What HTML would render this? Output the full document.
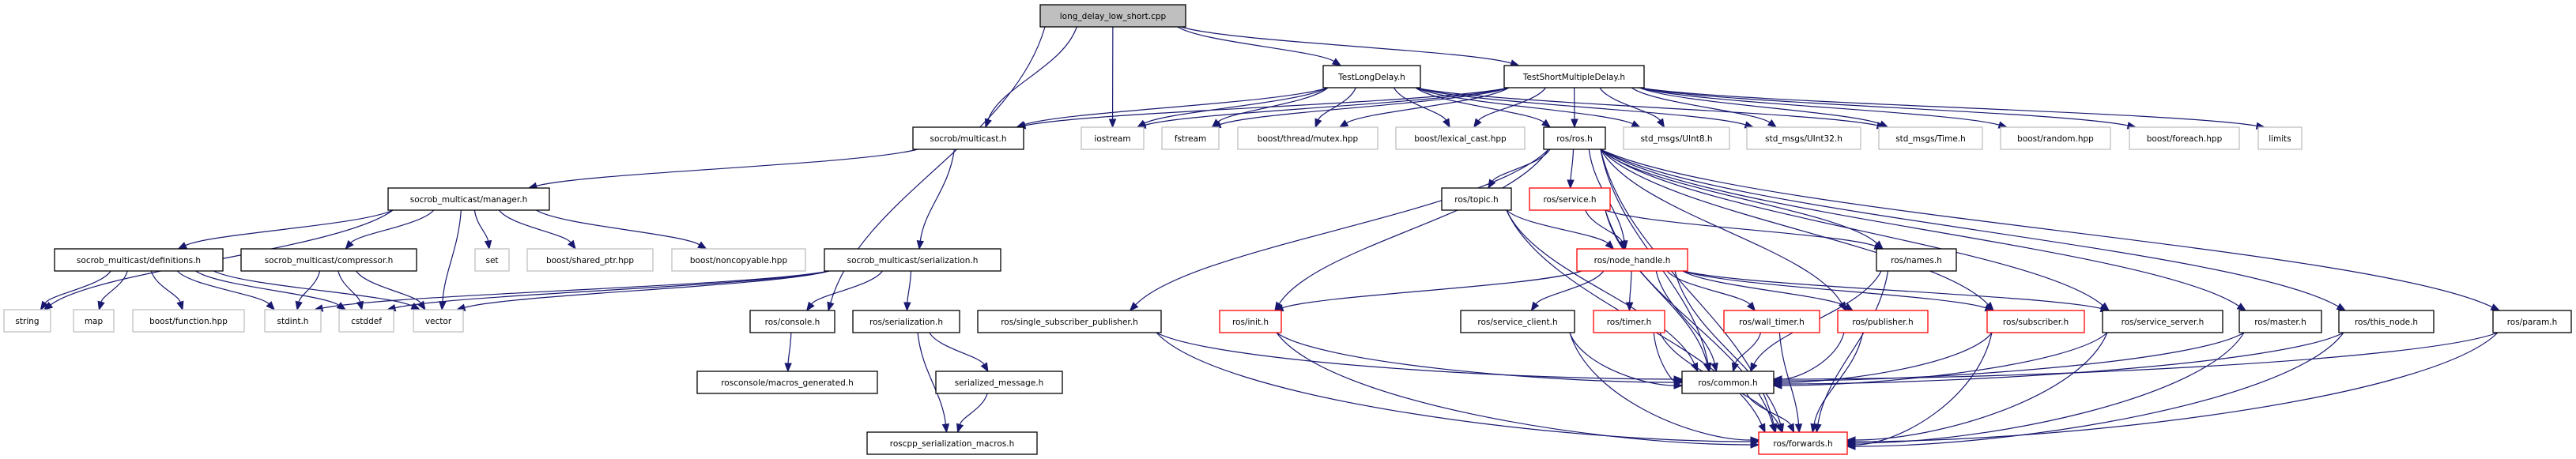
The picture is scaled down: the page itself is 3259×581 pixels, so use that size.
<!DOCTYPE html>
<html><head><meta charset="utf-8"><style>
html,body{margin:0;padding:0;background:#fff;}
svg{display:block}
text{font-family:"DejaVu Sans","Liberation Sans",sans-serif;font-size:10.5px;fill:#000;text-anchor:middle;}
.b{fill:#fff;stroke:#000;stroke-width:1.3}
.g{fill:#fff;stroke:#bfbfbf;stroke-width:1.3}
.r{fill:#fff;stroke:#ff0000;stroke-width:1.3}
.m{fill:#bfbfbf;stroke:#000;stroke-width:1.3}
</style></head><body>
<svg id="s" width="3259" height="581" viewBox="0 0 3259 581" xmlns="http://www.w3.org/2000/svg">
<g id="edges" fill="none" stroke="#191970" stroke-width="1.2"></g>
<g id="arrows" fill="#191970" stroke="#191970"></g>
<g id="nodes">
<rect class="m" x="1316" y="6" width="184" height="28"/><text x="1408" y="24">long_delay_low_short.cpp</text>
<rect class="b" x="1674" y="83" width="123" height="28"/><text x="1735.5" y="101">TestLongDelay.h</text>
<rect class="b" x="1903" y="83" width="177" height="28"/><text x="1991.5" y="101">TestShortMultipleDelay.h</text>
<rect class="b" x="1155" y="161" width="140" height="28"/><text x="1225" y="179">socrob/multicast.h</text>
<rect class="g" x="1368" y="161" width="79" height="28"/><text x="1407.5" y="179">iostream</text>
<rect class="g" x="1470" y="161" width="72" height="28"/><text x="1506" y="179">fstream</text>
<rect class="g" x="1566" y="161" width="177" height="28"/><text x="1654.5" y="179">boost/thread/mutex.hpp</text>
<rect class="g" x="1766" y="161" width="163" height="28"/><text x="1847.5" y="179">boost/lexical_cast.hpp</text>
<rect class="b" x="1953" y="161" width="78" height="28"/><text x="1992" y="179">ros/ros.h</text>
<rect class="g" x="2054" y="161" width="134" height="28"/><text x="2121" y="179">std_msgs/UInt8.h</text>
<rect class="g" x="2210" y="161" width="144" height="28"/><text x="2282" y="179">std_msgs/UInt32.h</text>
<rect class="g" x="2377" y="161" width="131" height="28"/><text x="2442.5" y="179">std_msgs/Time.h</text>
<rect class="g" x="2531" y="161" width="139" height="28"/><text x="2600.5" y="179">boost/random.hpp</text>
<rect class="g" x="2694" y="161" width="139" height="28"/><text x="2763.5" y="179">boost/foreach.hpp</text>
<rect class="g" x="2857" y="161" width="55" height="28"/><text x="2884.5" y="179">limits</text>
<rect class="b" x="491" y="238" width="204" height="28"/><text x="593" y="256">socrob_multicast/manager.h</text>
<rect class="b" x="1824" y="238" width="88" height="28"/><text x="1868" y="256">ros/topic.h</text>
<rect class="r" x="1935" y="238" width="102" height="28"/><text x="1986" y="256">ros/service.h</text>
<rect class="b" x="69" y="315" width="213" height="28"/><text x="175.5" y="333">socrob_multicast/definitions.h</text>
<rect class="b" x="305" y="315" width="222" height="28"/><text x="416" y="333">socrob_multicast/compressor.h</text>
<rect class="g" x="601" y="315" width="43" height="28"/><text x="622.5" y="333">set</text>
<rect class="g" x="667" y="315" width="159" height="28"/><text x="746.5" y="333">boost/shared_ptr.hpp</text>
<rect class="g" x="850" y="315" width="169" height="28"/><text x="934.5" y="333">boost/noncopyable.hpp</text>
<rect class="b" x="1043" y="315" width="223" height="28"/><text x="1154.5" y="333">socrob_multicast/serialization.h</text>
<rect class="r" x="1995" y="315" width="140" height="28"/><text x="2065" y="333">ros/node_handle.h</text>
<rect class="b" x="2374" y="315" width="101" height="28"/><text x="2424.5" y="333">ros/names.h</text>
<rect class="g" x="5" y="392" width="59" height="28"/><text x="34.5" y="410">string</text>
<rect class="g" x="93" y="392" width="51" height="28"/><text x="118.5" y="410">map</text>
<rect class="g" x="168" y="392" width="141" height="28"/><text x="238.5" y="410">boost/function.hpp</text>
<rect class="g" x="335" y="392" width="71" height="28"/><text x="370.5" y="410">stdint.h</text>
<rect class="g" x="429" y="392" width="69" height="28"/><text x="463.5" y="410">cstddef</text>
<rect class="g" x="523" y="392" width="63" height="28"/><text x="554.5" y="410">vector</text>
<rect class="b" x="949" y="393" width="107" height="28"/><text x="1002.5" y="411">ros/console.h</text>
<rect class="b" x="1079" y="393" width="135" height="28"/><text x="1146.5" y="411">ros/serialization.h</text>
<rect class="b" x="1237" y="393" width="232" height="28"/><text x="1353" y="411">ros/single_subscriber_publisher.h</text>
<rect class="r" x="1543" y="393" width="78" height="28"/><text x="1582" y="411">ros/init.h</text>
<rect class="b" x="1848" y="393" width="144" height="28"/><text x="1920" y="411">ros/service_client.h</text>
<rect class="r" x="2016" y="393" width="90" height="28"/><text x="2061" y="411">ros/timer.h</text>
<rect class="r" x="2181" y="393" width="121" height="28"/><text x="2241.5" y="411">ros/wall_timer.h</text>
<rect class="r" x="2325" y="393" width="114" height="28"/><text x="2382" y="411">ros/publisher.h</text>
<rect class="r" x="2514" y="393" width="123" height="28"/><text x="2575.5" y="411">ros/subscriber.h</text>
<rect class="b" x="2660" y="393" width="152" height="28"/><text x="2736" y="411">ros/service_server.h</text>
<rect class="b" x="2833" y="393" width="104" height="28"/><text x="2885" y="411">ros/master.h</text>
<rect class="b" x="2959" y="393" width="120" height="28"/><text x="3019" y="411">ros/this_node.h</text>
<rect class="b" x="3154" y="393" width="99" height="28"/><text x="3203.5" y="411">ros/param.h</text>
<rect class="b" x="882" y="470" width="228" height="28"/><text x="996" y="488">rosconsole/macros_generated.h</text>
<rect class="b" x="1184" y="470" width="160" height="28"/><text x="1264" y="488">serialized_message.h</text>
<rect class="b" x="2128" y="470" width="116" height="28"/><text x="2186" y="488">ros/common.h</text>
<rect class="b" x="1097" y="547" width="215" height="28"/><text x="1204.5" y="565">roscpp_serialization_macros.h</text>
<rect class="r" x="2225" y="547" width="112" height="28"/><text x="2281" y="565">ros/forwards.h</text>
</g>
</svg>
<script>
(function(){
var N={
ld:[1316,6,1500,34],tl:[1674,83,1797,111],ts:[1903,83,2080,111],mc:[1155,161,1295,189],io:[1368,161,1447,189],fs:[1470,161,1542,189],
mx:[1566,161,1743,189],lc:[1766,161,1929,189],ros:[1953,161,2031,189],u8:[2054,161,2188,189],u32:[2210,161,2354,189],tm:[2377,161,2508,189],
rnd:[2531,161,2670,189],fe:[2694,161,2833,189],lim:[2857,161,2912,189],mg:[491,238,695,266],tp:[1824,238,1912,266],sv:[1935,238,2037,266],
df:[69,315,282,343],cp:[305,315,527,343],set:[601,315,644,343],sp:[667,315,826,343],nc:[850,315,1019,343],se:[1043,315,1266,343],
nh:[1995,315,2135,343],nm:[2374,315,2475,343],str:[5,392,64,420],map:[93,392,144,420],fn:[168,392,309,420],si:[335,392,406,420],
cd:[429,392,498,420],vec:[523,392,586,420],con:[949,393,1056,421],rse:[1079,393,1214,421],ssp:[1237,393,1469,421],ini:[1543,393,1621,421],
sc:[1848,393,1992,421],tmr:[2016,393,2106,421],wt:[2181,393,2302,421],pub:[2325,393,2439,421],sub:[2514,393,2637,421],ss:[2660,393,2812,421],
ms:[2833,393,2937,421],tn:[2959,393,3079,421],par:[3154,393,3253,421],mac:[882,470,1110,498],smg:[1184,470,1344,498],com:[2128,470,2244,498],
rsm:[1097,547,1312,575],fw:[2225,547,2337,575]};
var E=[
['ld','mc'],['ld','io'],['ld','tl'],['ld','ts'],['ld','con'],
['tl','mc'],['tl','io'],['tl','fs'],['tl','mx'],['tl','lc'],['tl','ros'],['tl','u8'],['tl','u32'],['tl','tm'],
['ts','mc'],['ts','io'],['ts','fs'],['ts','mx'],['ts','lc'],['ts','ros'],['ts','u8'],['ts','u32'],['ts','tm'],['ts','rnd'],['ts','fe'],['ts','lim'],
['mc','mg'],['mc','se'],
['mg','str'],['mg','df'],['mg','cp'],['mg','vec'],['mg','set'],['mg','sp'],['mg','nc'],
['df','str'],['df','map'],['df','fn'],['df','si'],['df','cd'],['df','vec'],
['cp','si'],['cp','cd'],['cp','vec'],
['se','si'],['se','cd'],['se','vec'],['se','con'],['se','rse'],
['con','mac'],['rse','smg'],['rse','rsm'],['smg','rsm'],
['ros','tp'],['ros','sv'],['ros','nh'],['ros','nm'],['ros','ssp'],['ros','ini'],['ros','com'],['ros','fw'],['ros','pub'],['ros','sub'],
['ros','ss'],['ros','ms'],['ros','tn'],['ros','par'],
['sv','nh'],['sv','nm'],['sv','com'],['sv','fw'],
['tp','nh'],['tp','com'],['tp','fw'],
['nh','ini'],['nh','sc'],['nh','tmr'],['nh','wt'],['nh','pub'],['nh','sub'],['nh','ss'],['nh','com'],['nh','fw'],
['nm','com'],['nm','fw'],
['ssp','com'],['ssp','fw'],['ini','com'],['ini','fw'],['sc','com'],['sc','fw'],['tmr','com'],['tmr','fw'],['wt','com'],['wt','fw'],
['pub','com'],['pub','fw'],['sub','com'],['sub','fw'],['ss','com'],['ss','fw'],['ms','com'],['ms','fw'],['tn','com'],['tn','fw'],
['par','com'],['par','fw'],['com','fw']];
var eg=document.getElementById('edges'),ag=document.getElementById('arrows'),ns='http://www.w3.org/2000/svg';
function cl(v,a,b){return Math.max(a,Math.min(b,v));}
E.forEach(function(e,i){
 var s=N[e[0]],t=N[e[1]];
 var scx=(s[0]+s[2])/2,tcx=(t[0]+t[2])/2;
 var sx=cl(scx+(tcx-scx)*0.25,s[0]+6,s[2]-6),sy=s[3];
 var ex,ey,c1x,c1y,c2x,c2y;
 var dy=t[1]-sy;
 var side=(e[1]=='com'||e[1]=='fw')&&Math.abs(scx-tcx)>2.2*dy;
 if(side){
  var left=scx<tcx;
  ex=left?t[0]:t[2];
  ey=(t[1]+t[3])/2+((i%5)-2)*2;
  c1x=sx+(ex-sx)*0.1;c1y=sy+(ey-sy)*0.6;
  c2x=ex+(left?-1:1)*Math.abs(ex-sx)*0.35;c2y=ey;
 }else{
  ex=cl(tcx+(scx-tcx)*0.12,t[0]+8,t[2]-8);ey=t[1];
  var d=ey-sy;
  c1x=sx+(ex-sx)*0.15;c1y=sy+d*0.4;c2x=ex-(ex-sx)*0.15;c2y=ey-d*0.4;
 }
 var dx=ex-c2x,ddy=ey-c2y,L=Math.sqrt(dx*dx+ddy*ddy)||1;dx/=L;ddy/=L;
 var bx=ex-dx*10,by=ey-ddy*10;
 var p=document.createElementNS(ns,'path');
 p.setAttribute('d','M'+sx+','+sy+' C'+c1x+','+c1y+' '+c2x+','+c2y+' '+bx+','+by);
 eg.appendChild(p);
 var a=document.createElementNS(ns,'polygon');
 a.setAttribute('points',ex+','+ey+' '+(bx-ddy*4)+','+(by+dx*4)+' '+(bx+ddy*4)+','+(by-dx*4));
 ag.appendChild(a);
});
})();
</script>
</body></html>
